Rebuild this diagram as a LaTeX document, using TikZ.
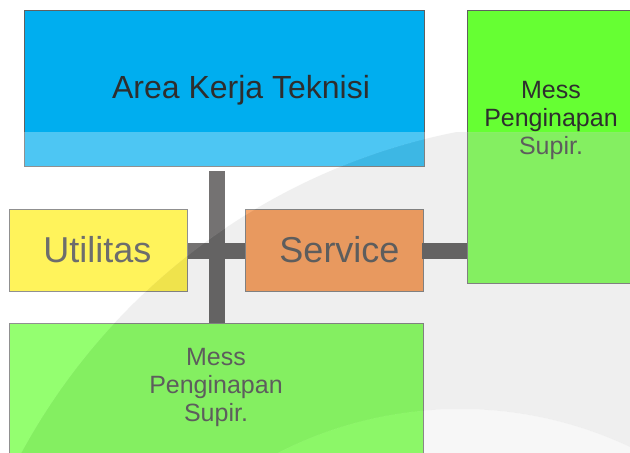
\documentclass[tikz,border=0pt]{standalone}
\usepackage{fontspec}
\setmainfont{Liberation Sans}
\definecolor{areablue}{HTML}{00AEEF}
\definecolor{messgreen}{HTML}{66FF33}
\definecolor{utilyellow}{HTML}{FFEE15}
\definecolor{servorange}{HTML}{F58431}
\definecolor{barcol}{HTML}{383636}
\definecolor{txtcol}{HTML}{2E2E2E}
\definecolor{edgecol}{HTML}{606060}
\begin{document}
\begin{tikzpicture}[x=1pt,y=-1pt,
  room/.style={draw=edgecol,line width=1pt,inner sep=0pt,anchor=north west},
  lbl/.style={text=txtcol,inner sep=0pt,align=center},
  bar/.style={draw=barcol,line width=16pt}]
\useasboundingbox (0,0) rectangle (630,453);
\clip (0,0) rectangle (630,453);
\fill[white] (0,0) rectangle (630,453);

% rooms
\node[room,fill=areablue,minimum width=400pt,minimum height=156pt] (area) at (24,10) {};
\node[room,fill=messgreen,minimum width=168pt,minimum height=273pt] (messr) at (467,10) {};
\node[room,fill=utilyellow,minimum width=178pt,minimum height=82pt] (util) at (9,209) {};
\node[room,fill=servorange,minimum width=178pt,minimum height=82pt] (serv) at (245,209) {};
\node[room,fill=messgreen,minimum width=414pt,minimum height=140pt] (messb) at (9,323) {};

% corridors
\coordinate (hub) at (216.5,251);
\draw[bar] ([yshift=-4pt]hub |- area.south) -- (hub |- messb.north);
\draw[bar] (util.east) -- (serv.west);
\draw[bar] ([xshift=-2pt]serv.east) -- (serv.east -| messr.west);

% labels
\node[lbl,font=\fontsize{32}{38}\selectfont] (areatxt) at (241,90) {Area Kerja Teknisi};
\node[lbl,font=\fontsize{36}{40}\selectfont] (utiltxt) at (97.5,250) {Utilitas};
\node[lbl,font=\fontsize{36}{40}\selectfont] (servtxt) at (339.5,250) {Service};
\node[lbl,font=\fontsize{25}{28}\selectfont] (messrtxt) at (551,120) {Mess\\Penginapan\\Supir.};
\node[lbl,font=\fontsize{25}{28}\selectfont] (messbtxt) at (216,387) {Mess\\Penginapan\\Supir.};

% translucent seal over the lower part
\begin{scope}
\clip (0,132) rectangle (630,453);
\fill[white,opacity=0.3,even odd rule] (0,132) rectangle (630,453) (580,755) circle (635);
\fill[black!20,opacity=0.3,even odd rule] (580,755) circle (635) (460,808) circle (399);
\fill[black!10,opacity=0.3] (460,808) circle (399);
\end{scope}
\end{tikzpicture}
\end{document}
